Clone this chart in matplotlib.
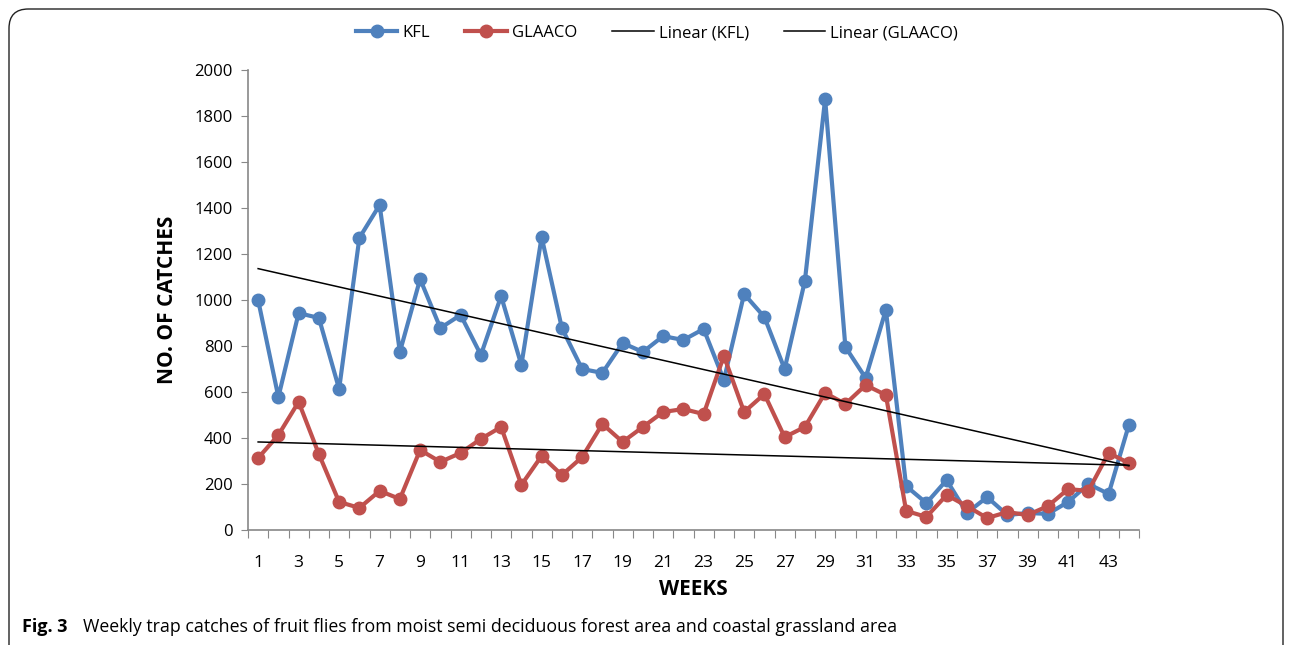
import numpy as np
import matplotlib
matplotlib.use('Agg')
import matplotlib.pyplot as plt
from matplotlib.patches import FancyBboxPatch

## Data
## =========================== ##
weeks   = list(range(1, 45))
kfl     = [1000, 578, 943, 922, 613, 1270, 1413, 774, 1091, 878,
           935, 761, 1017, 717, 1274, 878, 700, 683, 813, 774,
           843, 826, 874, 652, 1026, 926, 700, 1083, 1874, 796,
           661, 957, 191, 117, 217, 74, 143, 65, 74, 70,
           122, 200, 157, 457]
glaaco  = [313, 413, 557, 330, 122, 96, 170, 135, 348, 296,
           335, 396, 448, 196, 322, 239, 317, 461, 383, 448,
           513, 526, 504, 757, 513, 591, 404, 448, 596, 548,
           630, 587, 83, 57, 152, 104, 52, 78, 65, 104,
           178, 170, 335, 291]
yticks  = list(range(0, 2001, 200))
xlabels = [str(w) for w in weeks[::2]]

plt.rcParams['font.family'] = ['Open Sans', 'DejaVu Sans']

BLUE = '#4F81BD'
RED  = '#C0504D'

fig = plt.figure(figsize=(12.9, 6.45), dpi=100)
ax  = fig.add_axes([248/1290, 1 - 530/645, (1139-248)/1290, (530-70)/645])

## Series and linear trends
## ======================== ##
x = np.array(weeks)
ax.plot(x, kfl, '-o', color=BLUE, lw=3, ms=9, label='KFL', zorder=3)
ax.plot(x, glaaco, '-o', color=RED, lw=3, ms=9, label='GLAACO', zorder=3)
for series, name in [(kfl, 'KFL'), (glaaco, 'GLAACO')]:
    slope, intercept = np.polyfit(x, series, 1)
    ax.plot(x, slope*x + intercept, '-', color='black', lw=1.1,
            label='Linear (%s)' % name, zorder=4)

ax.set_xlim(0.5, 44.5)
ax.set_ylim(0, 2000)
ax.set_yticks(yticks)
ax.tick_params(axis='y', labelsize=12, length=5, color='#888888', pad=6)
ax.set_xticks(np.arange(0.5, 45.5, 1.0))
ax.set_xticklabels([])
ax.tick_params(axis='x', which='major', length=6, color='#888888')
ax.set_xticks(weeks[::2], minor=True)
ax.set_xticklabels(xlabels, minor=True)
ax.tick_params(axis='x', which='minor', length=0, labelsize=12.5, pad=18)
for s in ['top', 'right']:
    ax.spines[s].set_visible(False)
for s in ['left', 'bottom']:
    ax.spines[s].set_color('#888888')
    ax.spines[s].set_linewidth(1.2)

ax.set_ylabel('NO. OF CATCHES', fontsize=15, fontweight='bold', labelpad=12)
ax.set_xlabel('WEEKS', fontsize=15, fontweight='bold', labelpad=6)

leg = ax.legend(loc='upper center', bbox_to_anchor=(0.459, 1.13), ncol=4,
                frameon=False, fontsize=12, handlelength=2.5,
                columnspacing=2.1, handletextpad=0.3)

## Frame and caption
## ================= ##
frame = FancyBboxPatch((9/1290, -0.05), (1283-9)/1290, 1 - 9/645 + 0.05,
                       boxstyle='round,pad=0,rounding_size=0.015',
                       transform=fig.transFigure, fill=False,
                       edgecolor='#222222', lw=1.0, mutation_aspect=2)
fig.patches.append(frame)

fig.text(22/1290, 1 - 627/645, 'Fig. 3', fontsize=13, fontweight='bold',
         va='center')
fig.text(83/1290, 1 - 627/645,
         'Weekly trap catches of fruit flies from moist semi deciduous forest area and coastal grassland area',
         fontsize=12.8, va='center')

fig.savefig('out.png', dpi=100)
